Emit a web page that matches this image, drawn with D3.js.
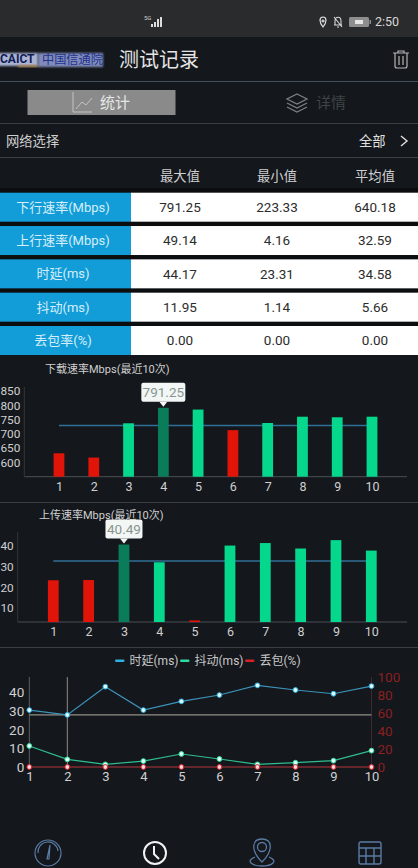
<!DOCTYPE html>
<html lang="zh">
<head>
<meta charset="UTF-8">
<title>测试记录</title>
<script src="https://cdnjs.cloudflare.com/ajax/libs/d3/7.8.5/d3.min.js"></script>
<style>
    html, body { margin: 0; padding: 0; background: #14171c; overflow: hidden; }
    svg { display: block; font-family: Roboto, "Noto Sans CJK SC", sans-serif; }
    .axis path, .axis line { display: none; }
</style>
</head>
<body>
<svg id="page" width="418" height="868">
    <defs><filter id="soft"><feGaussianBlur stdDeviation="1.2"></feGaussianBlur></filter></defs>
</svg>
<script>
// table
const rowNames = ["下行速率(Mbps)", "上行速率(Mbps)", "时延(ms)", "抖动(ms)", "丢包率(%)"];
const colNames = ["最大值", "最小值", "平均值"];
const maxValues = ["791.25", "49.14", "44.17", "11.95", "0.00"];
const minValues = ["223.33", "4.16", "23.31", "1.14", "0.00"];
const avgValues = ["640.18", "32.59", "34.58", "5.66", "0.00"];

// charts
const runs = [1, 2, 3, 4, 5, 6, 7, 8, 9, 10];
const downValues = [632, 617, 737, 791.25, 785, 713, 738, 760, 758, 760];
const downColors = ["r", "r", "g", "d", "g", "r", "g", "g", "g", "g"];
const downAvg = 729;
const downTicks = [600, 650, 700, 750, 800, 850];
const upValues = [23.4, 23.5, 40.49, 32, 4.16, 40, 41.2, 38.6, 42.6, 37.6];
const upColors = ["r", "r", "d", "g", "r", "g", "g", "g", "g", "g"];
const upAvg = 32.59;
const upTicks = [10, 20, 30, 40];
const delayValues = [30.6, 28, 43.2, 30.6, 35.3, 38.7, 43.9, 41.4, 39.4, 43.5];
const jitterValues = [11.3, 4.1, 1.4, 3.2, 7, 4.3, 1.4, 2.3, 3.4, 8.8];
const lossValues = [0, 0, 0, 0, 0, 0, 0, 0, 0, 0];
const leftTicks = [0, 10, 20, 30, 40];
const rightTicks = [0, 20, 40, 60, 80, 100];
const legendNames = ["时延(ms)", "抖动(ms)", "丢包(%)"];

const barFill = { r: "#e01408", g: "#05d88d", d: "#0b7c59" };
const svg = d3.select("#page");

function label(parent, x, y, str, size, fill, anchor) {
    return parent.append("text").attr("x", x).attr("y", y).attr("dy", "0.35em")
        .attr("font-size", size).attr("fill", fill)
        .attr("text-anchor", anchor || "start").text(str);
}
function rule(y, color) {
    svg.append("rect").attr("x", 0).attr("y", y).attr("width", 418).attr("height", 1).attr("fill", color);
}
function icon(x, y, d, color, width) {
    svg.append("path").attr("transform", `translate(${x},${y})`).attr("d", d)
        .attr("fill", "none").attr("stroke", color).attr("stroke-width", width || 1.2);
}

// status bar
svg.append("rect").attr("width", 418).attr("height", 37).attr("fill", "#2a2b2d");
label(svg, 144, 18, "5G", 6, "#cfcfcf");
svg.selectAll(".sig").data([3, 5, 8, 10]).enter().append("rect")
    .attr("x", (d, i) => 151 + i * 3).attr("y", d => 27 - d).attr("width", 2).attr("height", d => d).attr("fill", "#dcdcdc");
icon(323, 22, "M0 5C-4 0 -4 -5 0 -5C4 -5 4 0 0 5ZM0 -2a1 1 0 1 0 .01 0", "#e0e0e0", 1.2);
icon(338, 22, "M-4 3H4M-3 3V-1C-3 -6 3 -6 3 -1V3M-4 -5L4 5M-1 5H1", "#d8d8d8", 1.1);
svg.append("rect").attr("x", 349).attr("y", 17).attr("width", 20).attr("height", 10).attr("rx", 1.5).attr("fill", "#8e8e8e");
svg.append("rect").attr("x", 355).attr("y", 20).attr("width", 8).attr("height", 4).attr("fill", "#e6e6e6");
svg.append("rect").attr("x", 369.5).attr("y", 20).attr("width", 1.5).attr("height", 4).attr("fill", "#8e8e8e");
label(svg, 375, 22, "2:50", 12.5, "#d8d8d8");

// header
svg.append("rect").attr("x", -2).attr("y", 53).attr("width", 40).attr("height", 13).attr("fill", "#aab3d2").attr("filter", "url(#soft)");
svg.append("rect").attr("x", 38).attr("y", 53).attr("width", 65).attr("height", 14).attr("fill", "#7f8bb8").attr("filter", "url(#soft)");
svg.append("rect").attr("x", 18).attr("y", 65).attr("width", 20).attr("height", 2).attr("fill", "#b8905c").attr("filter", "url(#soft)");
label(svg, 0, 59, "CAICT", 12, "#111c55").attr("font-weight", 700);
label(svg, 42, 60, "中国信通院", 12.2, "#1f3390");
label(svg, 119, 60, "测试记录", 20, "#e4e4e4");
icon(401, 60, "M-8 -7H8M-3 -7V-9H3V-7M-6 -7V6Q-6 8 -4 8H4Q6 8 6 6V-7M-2 -4V5M2 -4V5", "#b4b4b4", 1.2);
rule(81, "#44505c");

// tabs
svg.append("rect").attr("x", 27.5).attr("y", 90).attr("width", 148).attr("height", 25).attr("fill", "#8a8a8a");
icon(73, 92, "M0 0V20H19M3 17L9 10L13 13L19 6", "#c4c4c4", 1);
label(svg, 100, 103, "统计", 15, "#e6e6e6");
icon(297, 103, "M0 -9L10 -4L0 1L-10 -4ZM-10 0L0 5L10 0M-10 4L0 9L10 4", "#7b8083", 1.3);
label(svg, 316, 103, "详情", 15, "#3f4447");
rule(123, "#3a3f46");

// network row
label(svg, 6, 141, "网络选择", 13.3, "#cfcfcf");
label(svg, 359, 141, "全部", 13.3, "#e0e0e0");
icon(401, 136, "M0 0L6 5L0 10", "#e0e0e0", 1.4);
rule(157, "#3a3f46");

// table
const colX = [180, 277, 375];
const rowY = d3.scaleBand().domain(rowNames).range([192.7, 355]).paddingInner(0.13).paddingOuter(0);
const tableCols = [maxValues, minValues, avgValues];
colNames.forEach((c, i) => label(svg, colX[i], 176, c, 13.3, "#cfcfcf", "middle"));
svg.append("rect").attr("x", 0).attr("y", 188).attr("width", 418).attr("height", 167).attr("fill", "#0c0d0e");
rowNames.forEach((name, r) => {
    const y = rowY(name), h = rowY.bandwidth();
    svg.append("rect").attr("x", 0).attr("y", y).attr("width", 131).attr("height", h).attr("fill", "#129dd8");
    svg.append("rect").attr("x", 131).attr("y", y).attr("width", 287).attr("height", h).attr("fill", "#ffffff");
    label(svg, 63, y + h / 2, name, 13, "#d5eef9", "middle");
    tableCols.forEach((col, i) => label(svg, colX[i], y + h / 2, col[r], 13.5, "#2c2c2c", "middle"));
});

function barChart(cfg) {
    const g = svg.append("g");
    const y = d3.scaleLinear().domain(cfg.domain).range([cfg.base, cfg.top]);
    const x = d3.scalePoint().domain(runs).range(cfg.xRange);
    label(g, cfg.titleX, cfg.titleY, cfg.title, 11, "#cfcfcf");
    g.append("line").attr("x1", cfg.axisX).attr("x2", 407).attr("y1", cfg.base).attr("y2", cfg.base).attr("stroke", "#4a4f55");
    g.append("line").attr("x1", cfg.axisX).attr("x2", cfg.axisX).attr("y1", cfg.top).attr("y2", cfg.base).attr("stroke", "#33373c");
    // average line sits behind the bars
    g.append("line").attr("x1", x(1)).attr("x2", x(10)).attr("y1", y(cfg.avg)).attr("y2", y(cfg.avg))
        .attr("stroke", "#2f7196").attr("stroke-width", 1.4);
    g.selectAll(".bar").data(cfg.values).enter().append("rect")
        .attr("x", (d, i) => x(runs[i]) - 5.4).attr("width", 10.8)
        .attr("y", d => y(d)).attr("height", d => cfg.base - y(d))
        .attr("fill", (d, i) => barFill[cfg.colors[i]]);
    const axY = g.append("g").attr("class", "axis").attr("transform", `translate(${cfg.axisX},0)`)
        .call(d3.axisLeft(y).tickValues(cfg.ticks).tickSize(0).tickPadding(4));
    axY.selectAll("text").attr("fill", "#d0d0d0").attr("font-size", 11.8);
    const axX = g.append("g").attr("class", "axis").attr("transform", `translate(0,${cfg.base})`)
        .call(d3.axisBottom(x).tickSize(0).tickPadding(5));
    axX.selectAll("text").attr("fill", "#d0d0d0").attr("font-size", 12.5);
    axY.attr("font-family", null); axX.attr("font-family", null);

    // tooltip on the highlighted bar
    const hi = cfg.colors.indexOf("d");
    const tx = x(runs[hi]), ty = y(cfg.values[hi]) - 1;
    g.append("path").attr("d", `M${tx - 4} ${ty - 5}L${tx} ${ty}L${tx + 4} ${ty - 5}Z`).attr("fill", "#f2f6f4");
    g.append("rect").attr("x", tx - cfg.tipW / 2).attr("y", ty - 24).attr("width", cfg.tipW).attr("height", 19).attr("rx", 2).attr("fill", "#f2f6f4");
    label(g, tx, ty - 14.5, cfg.tip, 13.5, "#87958f", "middle");
}

barChart({
    title: "下载速率Mbps(最近10次)", titleX: 45, titleY: 369, values: downValues, colors: downColors, avg: downAvg,
    ticks: downTicks, domain: [550, 864], base: 476.7, top: 387, xRange: [59, 372], axisX: 24.3, tip: "791.25", tipW: 44
});
rule(502, "#3a3f46");
barChart({
    title: "上传速率Mbps(最近10次)", titleX: 39, titleY: 515, values: upValues, colors: upColors, avg: upAvg,
    ticks: upTicks, domain: [3.4, 46.5], base: 622, top: 532, xRange: [53.3, 371.3], axisX: 17.7, tip: "40.49", tipW: 37
});
rule(647, "#3a3f46");

// line chart
const lineG = svg.append("g");
const lx = d3.scalePoint().domain(runs).range([29.3, 371.5]);
const ly = d3.scaleLinear().domain([0, 48.4]).range([767, 677]);
const ry = d3.scaleLinear().domain([0, 100]).range([767, 677]);

lineG.append("line").attr("x1", lx(1)).attr("x2", lx(1)).attr("y1", 677).attr("y2", 767).attr("stroke", "#5c6064");
lineG.append("line").attr("x1", lx(10)).attr("x2", lx(10)).attr("y1", 677).attr("y2", 767).attr("stroke", "#3d2a2c");
lineG.append("line").attr("x1", lx(2)).attr("x2", lx(2)).attr("y1", 677).attr("y2", 767).attr("stroke", "#8f8f88");
lineG.append("line").attr("x1", lx(1)).attr("x2", lx(10)).attr("y1", ly(delayValues[1])).attr("y2", ly(delayValues[1]))
    .attr("stroke", "#8f8f88").attr("stroke-width", 1.3);

const series = [
    { values: delayValues, line: "#3c93bb", ring: "#2fb0e0", dot: "#dffaff" },
    { values: jitterValues, line: "#2fbf8f", ring: "#2fdca0", dot: "#e2fff2" },
    { values: lossValues, line: "#b5383c", ring: "#d82028", dot: "#ffd9d9" }
];
const lineGen = d3.line().x((d, i) => lx(runs[i])).y(d => ly(d));
series.forEach(s => {
    lineG.append("path").datum(s.values).attr("d", lineGen).attr("fill", "none").attr("stroke", s.line).attr("stroke-width", 1.2);
    lineG.selectAll(null).data(s.values).enter().append("circle")
        .attr("cx", (d, i) => lx(runs[i])).attr("cy", d => ly(d)).attr("r", 2.4)
        .attr("fill", s.dot).attr("stroke", s.ring).attr("stroke-width", 1);
});

const axL = lineG.append("g").attr("class", "axis").attr("transform", "translate(29.3,0)")
    .call(d3.axisLeft(ly).tickValues(leftTicks).tickSize(0).tickPadding(5));
axL.selectAll("text").attr("fill", "#d0d0d0").attr("font-size", 13.5);
const axR = lineG.append("g").attr("class", "axis").attr("transform", "translate(371.5,0)")
    .call(d3.axisRight(ry).tickValues(rightTicks).tickSize(0).tickPadding(6));
axR.selectAll("text").attr("fill", "#8a2020").attr("font-size", 13.5);
const axB = lineG.append("g").attr("class", "axis").attr("transform", "translate(0,767)")
    .call(d3.axisBottom(lx).tickSize(0).tickPadding(5));
axB.selectAll("text").attr("fill", "#d0d0d0").attr("font-size", 13);
[axL, axR, axB].forEach(a => a.attr("font-family", null));

// legend
const legendX = [115, 180, 245];
legendNames.forEach((name, i) => {
    lineG.append("rect").attr("x", legendX[i]).attr("y", 659.5).attr("width", 9.5).attr("height", 2.5).attr("rx", 1.2).attr("fill", series[i].ring);
    label(lineG, legendX[i] + 14.5, 661, name, 12, "#c8c8c8");
});

// bottom nav
const navBlue = "#5a7ba3";
icon(48, 853, "M-13 0A13 13 0 1 1 13 0A13 13 0 1 1 -13 0M-10 0A10 10 0 0 1 10 -2M-1 6L2 -8L1 6Z", navBlue, 1.2);
icon(155, 853, "M-11 0A11 11 0 1 1 11 0A11 11 0 1 1 -11 0M-1 -7V1L4 6", "#f2f2f2", 2);
icon(262, 853, "M0 9C-12 -3 -10 -14 0 -14C10 -14 12 -3 0 9ZM-4.5 -6a4.5 4.5 0 1 0 9 0a4.5 4.5 0 1 0 -9 0M-7 4C-17 8 -10 13 0 13C10 13 17 8 7 4", navBlue, 1.3);
icon(370, 853, "M-11 -9Q-11 -11 -9 -11H9Q11 -11 11 -9V9Q11 11 9 11H-9Q-11 11 -11 9ZM-11 -5H11M-11 3H11M-4 -5V11M4 -5V11", navBlue, 1.4);
</script>
</body>
</html>
